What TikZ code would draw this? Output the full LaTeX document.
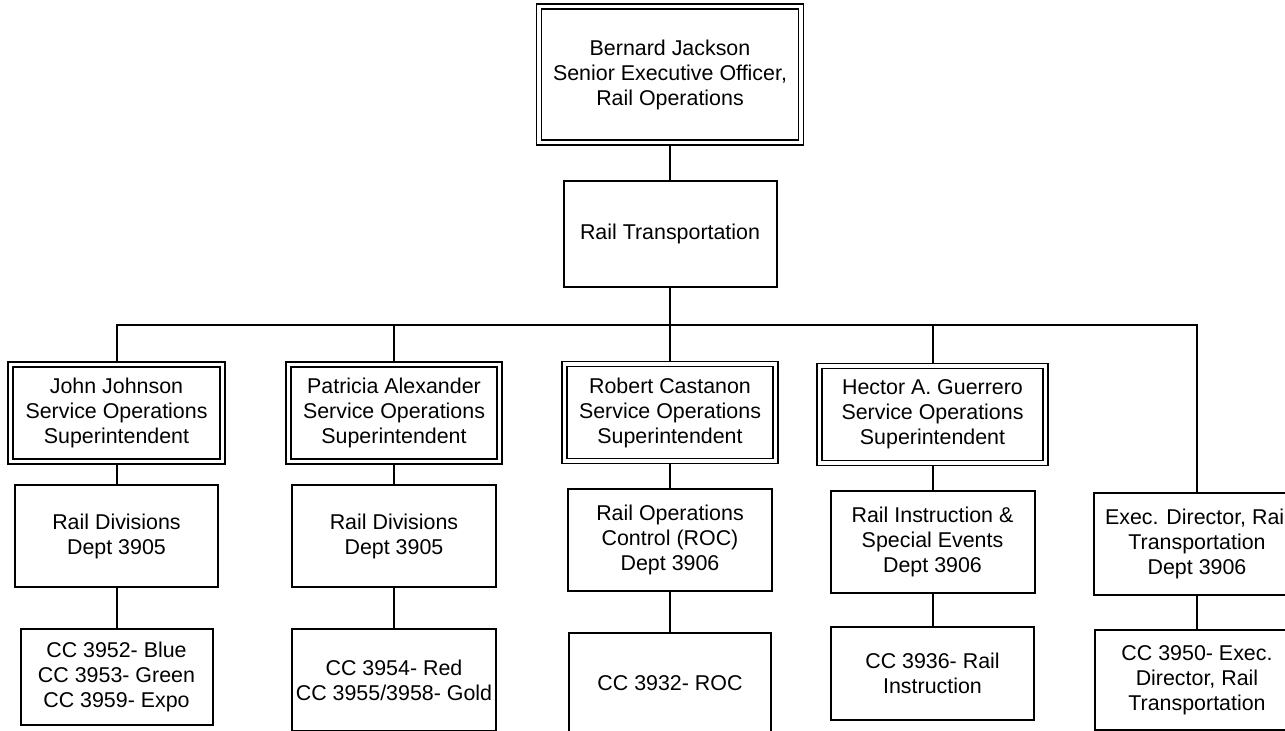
\documentclass[tikz,border=0pt]{standalone}
\usepackage{fontspec}
\setmainfont{Liberation Sans}
\usepackage{tikz}
\usetikzlibrary{positioning,backgrounds}

\newcommand{\orgfont}{\fontsize{10.7}{12.5}\selectfont}
\tikzset{
  unit/.style={draw,line width=1pt,fill=white,align=center,inner sep=2pt,font=\orgfont},
  headbox/.style={unit,double,line width=0.9pt,double distance=1.6pt},
  deptbox/.style={unit,minimum height=51pt},
  link/.style={line width=1pt}
}

\begin{document}
\begin{tikzpicture}[x=0.5pt,y=-0.5pt]
  \useasboundingbox (0,0) rectangle (1285,730);
  \clip (0,0) rectangle (1285,730);
  % top of the chart
  \node[headbox,minimum width=131pt,minimum height=68pt] (seo) at (670,74.5)
    {Bernard Jackson\\Senior Executive Officer,\\Rail Operations};
  \node[unit,minimum width=106.5pt,minimum height=53pt] (rt) at (670,234)
    {Rail Transportation};
  \coordinate (bus) at (670,325);
  % superintendents
  \foreach \i/\x/\y/\w/\who in {
    1/116.5/413/106/{John Johnson},
    2/394/413/105.5/{Patricia Alexander},
    3/670/412.5/105.5/{Robert Castanon},
    4/932.5/414.5/113/{Hector A. Guerrero}
  }{
    \node[headbox,minimum width=\w pt,minimum height=48.5pt] (sup\i) at (\x,\y)
      {\who\\Service Operations\\Superintendent};
  }
  % departments
  \node[deptbox,minimum width=101.5pt] (dep1) at (116.5,536) {Rail Divisions\\Dept 3905};
  \node[deptbox,minimum width=102pt] (dep2) at (394,536) {Rail Divisions\\Dept 3905};
  \node[deptbox,minimum width=102pt] (dep3) at (670,540) {Rail Operations\\Control (ROC)\\Dept 3906};
  \node[deptbox,minimum width=102pt] (dep4) at (932.5,542) {Rail Instruction \&\\Special Events\\Dept 3906};
  \node[deptbox,minimum width=103pt] (dep5) at (1197,544) {Exec. Director, Rail\\Transportation\\Dept 3906};
  % cost centres
  \node[unit,minimum width=96pt,minimum height=48pt] (cc1) at (116.5,677)
    {CC 3952- Blue\\CC 3953- Green\\CC 3959- Expo};
  \node[unit,minimum width=101.5pt,minimum height=51pt] (cc2) at (394,680)
    {CC 3954- Red\\CC 3955/3958- Gold};
  \node[unit,minimum width=101pt,minimum height=50pt] (cc3) at (670,683)
    {CC 3932- ROC};
  \node[unit,minimum width=101.5pt,minimum height=46.5pt] (cc4) at (932.5,673.5)
    {CC 3936- Rail\\Instruction};
  \node[unit,minimum width=102pt,minimum height=50pt] (cc5) at (1197,680)
    {CC 3950- Exec.\\Director, Rail\\Transportation};
  % connectors
  \begin{scope}[on background layer]
    \draw[link] (seo) -- (rt);
    \foreach \i in {1,...,4}{
      \draw[link] (rt.south) -- (bus) -| (sup\i.north);
      \draw[link] (sup\i) -- (dep\i);
    }
    \draw[link] (bus) -| (dep5.north);
    \foreach \i in {1,...,5}
      \draw[link] (dep\i) -- (cc\i);
  \end{scope}
\end{tikzpicture}
\end{document}
